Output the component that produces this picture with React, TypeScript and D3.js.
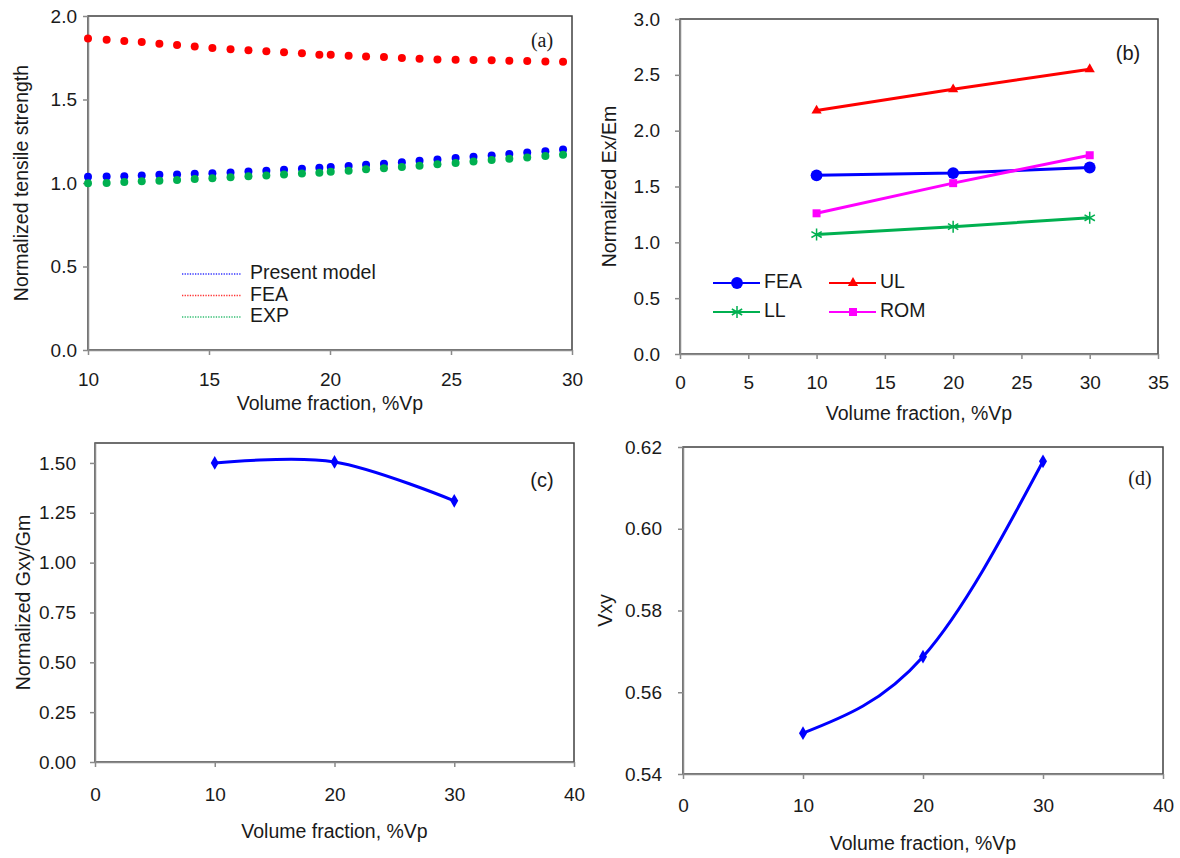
import React, { useEffect, useRef } from "react";
import * as d3 from "d3";

// (a) normalized tensile strength vs volume fraction
const volA = [10.0, 10.77, 11.5, 12.22, 12.95, 13.68, 14.41, 15.14, 15.89, 16.63, 17.37, 18.1, 18.84, 19.56,
  20.03, 20.77, 21.49, 22.23, 22.97, 23.7, 24.44, 25.19, 25.93, 26.68, 27.41, 28.15, 28.9, 29.63];
const presentModel = [1.037, 1.039, 1.041, 1.045, 1.049, 1.051, 1.055, 1.059, 1.063, 1.069, 1.073, 1.08, 1.086, 1.092,
  1.096, 1.102, 1.11, 1.116, 1.124, 1.133, 1.141, 1.149, 1.157, 1.165, 1.173, 1.182, 1.19, 1.2];
const feaA = [1.866, 1.858, 1.85, 1.844, 1.834, 1.826, 1.817, 1.809, 1.801, 1.795, 1.789, 1.783, 1.777, 1.768,
  1.768, 1.762, 1.758, 1.754, 1.748, 1.744, 1.74, 1.738, 1.736, 1.735, 1.732, 1.73, 1.728, 1.726];
const expA = [0.998, 1.0, 1.006, 1.01, 1.014, 1.018, 1.024, 1.029, 1.035, 1.041, 1.045, 1.051, 1.057, 1.061,
  1.067, 1.073, 1.082, 1.088, 1.096, 1.104, 1.112, 1.12, 1.129, 1.137, 1.145, 1.153, 1.161, 1.169];
const legendA = ["Present model", "FEA", "EXP"];

// (b) normalized Ex/Em
const volB = [10, 20, 30];
const feaB = [1.6, 1.62, 1.67];
const ulB = [2.18, 2.37, 2.55];
const llB = [1.07, 1.14, 1.22];
const romB = [1.26, 1.53, 1.78];

// (c) normalized Gxy/Gm
const volC = [10, 20, 30];
const gxy = [1.5, 1.505, 1.31];

// (d) Poisson ratio
const volD = [10, 20, 30];
const vxy = [0.55, 0.5687, 0.6165];

const xTicksA = [10, 15, 20, 25, 30];
const yTicksA = [0, 0.5, 1.0, 1.5, 2.0];
const xTicksB = [0, 5, 10, 15, 20, 25, 30, 35];
const yTicksB = [0, 0.5, 1.0, 1.5, 2.0, 2.5, 3.0];
const xTicksCD = [0, 10, 20, 30, 40];
const yTicksC = [0, 0.25, 0.5, 0.75, 1.0, 1.25, 1.5];
const yTicksD = [0.54, 0.56, 0.58, 0.6, 0.62];

const xTitle = "Volume fraction, %Vp";
const SANS = "'Liberation Sans', Arial, sans-serif";
const SERIF = "'Liberation Serif', 'Times New Roman', serif";
const BLUE = "#0000ff";
const RED = "#ff0000";
const GREEN = "#00b050";
const MAGENTA = "#ff00ff";
const INK = "#1a1a1a";

function panel(svg, o) {
  const g = svg.append("g");
  const x = d3.scaleLinear().domain(o.xDomain).range([o.left, o.right]);
  const y = d3.scaleLinear().domain(o.yDomain).range([o.bottom, o.top]);

  // box
  g.append("rect")
    .attr("x", o.left).attr("y", o.top)
    .attr("width", o.right - o.left).attr("height", o.bottom - o.top)
    .attr("fill", "none").attr("stroke", "#404040").attr("stroke-width", 1.5);

  const ax = g.append("g").attr("transform", `translate(0,${o.bottom})`)
    .call(d3.axisBottom(x).tickValues(o.xTicks).tickFormat(d3.format("d"))
      .tickSize(5).tickSizeOuter(0).tickPadding(o.xPad));
  const ay = g.append("g").attr("transform", `translate(${o.left},0)`)
    .call(d3.axisLeft(y).tickValues(o.yTicks).tickFormat(d3.format(o.yFmt))
      .tickSize(5).tickSizeOuter(0).tickPadding(o.yPad));
  [ax, ay].forEach((a) => {
    a.select(".domain").attr("stroke", "#8a8a8a").attr("stroke-width", 1.5);
    a.selectAll(".tick line").attr("stroke", "#8a8a8a").attr("stroke-width", 1.5);
    a.selectAll(".tick text").attr("fill", INK).attr("font-size", 19).attr("font-family", SANS);
  });

  g.append("text")
    .attr("x", (o.left + o.right) / 2).attr("y", o.xTitleY)
    .attr("text-anchor", "middle").attr("dominant-baseline", "middle")
    .attr("font-size", 19.5).attr("font-family", SANS).attr("fill", INK)
    .text(xTitle);
  g.append("text")
    .attr("transform", `translate(${o.yTitleX},${(o.top + o.bottom) / 2}) rotate(-90)`)
    .attr("text-anchor", "middle").attr("dominant-baseline", "middle")
    .attr("font-size", 19.5).attr("font-family", SANS).attr("fill", INK)
    .text(o.yTitle);
  g.append("text")
    .attr("x", o.tagX).attr("y", o.tagY)
    .attr("text-anchor", "middle").attr("dominant-baseline", "middle")
    .attr("font-size", 20).attr("font-family", o.tagFont).attr("fill", INK)
    .text(o.tag);

  return { g, x, y };
}

function App() {
  const ref = useRef(null);

  useEffect(() => {
    const svg = d3.select(ref.current);
    svg.selectAll("*").remove();

    // ---------- (a)
    const a = panel(svg, {
      left: 88, right: 572, top: 16, bottom: 350,
      xDomain: [10, 30], yDomain: [0, 2], xTicks: xTicksA, yTicks: yTicksA, yFmt: ".1f",
      xPad: 18, yPad: 6, xTitleY: 405, yTitle: "Normalized tensile strength", yTitleX: 23,
      tag: "(a)", tagX: 542, tagY: 42, tagFont: SERIF,
    });
    const seriesA = [
      { vals: presentModel, color: BLUE },
      { vals: feaA, color: RED },
      { vals: expA, color: GREEN },
    ];
    seriesA.forEach((s) => {
      a.g.append("g").selectAll("circle").data(s.vals).join("circle")
        .attr("cx", (d, i) => a.x(volA[i])).attr("cy", (d) => a.y(d))
        .attr("r", 4).attr("fill", s.color);
    });
    legendA.forEach((name, i) => {
      const ly = 274 + i * 21.5;
      a.g.append("line").attr("x1", 182).attr("x2", 241).attr("y1", ly).attr("y2", ly)
        .attr("stroke", seriesA[i].color).attr("stroke-width", 1.3).attr("stroke-dasharray", "1.3,1.3")
        .attr("opacity", 0.8);
      a.g.append("text").attr("x", 250).attr("y", ly).attr("dominant-baseline", "middle")
        .attr("font-size", 19.5).attr("font-family", SANS).attr("fill", INK).text(name);
    });

    // ---------- (b)
    const b = panel(svg, {
      left: 680, right: 1158, top: 19, bottom: 354,
      xDomain: [0, 35], yDomain: [0, 3], xTicks: xTicksB, yTicks: yTicksB, yFmt: ".1f",
      xPad: 17, yPad: 15, xTitleY: 415, yTitle: "Normalized Ex/Em", yTitleX: 611,
      tag: "(b)", tagX: 1128, tagY: 55, tagFont: SANS,
    });
    const seriesB = [
      { name: "FEA", vals: feaB, color: BLUE, sym: d3.symbolCircle, size: 110, fill: true },
      { name: "UL", vals: ulB, color: RED, sym: d3.symbolTriangle, size: 45, fill: true },
      { name: "LL", vals: llB, color: GREEN, sym: d3.symbolAsterisk, size: 100, fill: false },
      { name: "ROM", vals: romB, color: MAGENTA, sym: d3.symbolSquare, size: 64, fill: true },
    ];
    const lineB = d3.line().x((d, i) => b.x(volB[i])).y((d) => b.y(d));
    const marker = (sel, s) =>
      sel.attr("d", d3.symbol().type(s.sym).size(s.size)())
        .attr("fill", s.fill ? s.color : "none")
        .attr("stroke", s.color).attr("stroke-width", s.fill ? 0 : 1.5);
    seriesB.forEach((s) => {
      b.g.append("path").datum(s.vals).attr("d", lineB).attr("fill", "none")
        .attr("stroke", s.color).attr("stroke-width", 3);
      b.g.append("g").selectAll("path").data(s.vals).join("path")
        .attr("transform", (d, i) => `translate(${b.x(volB[i])},${b.y(d)})`)
        .call(marker, s);
    });
    seriesB.forEach((s, i) => {
      const lx = i % 2 === 0 ? 713 : 829;
      const ly = i < 2 ? 283 : 312;
      b.g.append("line").attr("x1", lx).attr("x2", lx + 47).attr("y1", ly).attr("y2", ly)
        .attr("stroke", s.color).attr("stroke-width", 2);
      b.g.append("path").attr("transform", `translate(${lx + 24},${ly})`).call(marker, s);
      b.g.append("text").attr("x", lx + 51).attr("y", ly).attr("dominant-baseline", "middle")
        .attr("font-size", 19.5).attr("font-family", SANS).attr("fill", INK).text(s.name);
    });

    // ---------- (c)
    const c = panel(svg, {
      left: 95, right: 574, top: 443, bottom: 762,
      xDomain: [0, 40], yDomain: [0, 1.6], xTicks: xTicksCD, yTicks: yTicksC, yFmt: ".2f",
      xPad: 21, yPad: 14, xTitleY: 833, yTitle: "Normalized Gxy/Gm", yTitleX: 25,
      tag: "(c)", tagX: 542, tagY: 482, tagFont: SANS,
    });
    const lineC = d3.line().curve(d3.curveCardinal.tension(0))
      .x((d, i) => c.x(volC[i])).y((d) => c.y(d));
    c.g.append("path").datum(gxy).attr("d", lineC).attr("fill", "none")
      .attr("stroke", BLUE).attr("stroke-width", 3);
    c.g.append("g").selectAll("path").data(gxy).join("path")
      .attr("transform", (d, i) => `translate(${c.x(volC[i])},${c.y(d)})`)
      .attr("d", d3.symbol().type(d3.symbolDiamond).size(55)()).attr("fill", BLUE);

    // ---------- (d)
    const dd = panel(svg, {
      left: 683, right: 1163, top: 447, bottom: 774,
      xDomain: [0, 40], yDomain: [0.54, 0.62], xTicks: xTicksCD, yTicks: yTicksD, yFmt: ".2f",
      xPad: 20, yPad: 16, xTitleY: 845, yTitle: "Vxy", yTitleX: 607,
      tag: "(d)", tagX: 1140, tagY: 480, tagFont: SERIF,
    });
    const lineD = d3.line().curve(d3.curveNatural)
      .x((d, i) => dd.x(volD[i])).y((d) => dd.y(d));
    dd.g.append("path").datum(vxy).attr("d", lineD).attr("fill", "none")
      .attr("stroke", BLUE).attr("stroke-width", 3);
    dd.g.append("g").selectAll("path").data(vxy).join("path")
      .attr("transform", (d, i) => `translate(${dd.x(volD[i])},${dd.y(d)})`)
      .attr("d", d3.symbol().type(d3.symbolDiamond).size(55)()).attr("fill", BLUE);
  }, []);

  return (
    <svg
      ref={ref}
      width={1180}
      height={858}
      style={{ position: "absolute", left: 0, top: 0, background: "#fff", display: "block" }}
    />
  );
}

export default App;
